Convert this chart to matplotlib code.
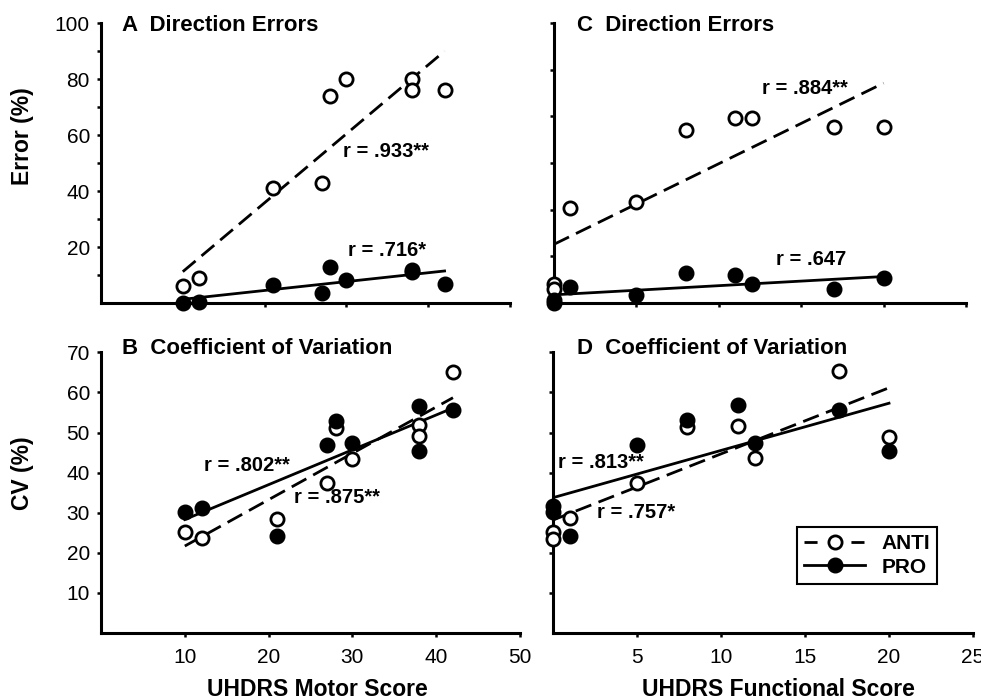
import numpy as np
import matplotlib.pyplot as plt
from matplotlib.lines import Line2D

plt.rcParams['font.family'] = ['Liberation Sans', 'DejaVu Sans']

# Escores UHDRS dos 9 pacientes
motor_score = [10, 12, 21, 27, 28, 30, 38, 38, 42]
functional_score = [0, 0, 1, 5, 8, 11, 12, 17, 20]

# A: erros de direcao (%) x escore motor
err_anti_motor = [6, 9, 41, 43, 74, 80, 80, 76, 76]
err_pro_motor = [0, 0.5, 6.4, 3.7, 13, 8.2, 12, 11, 6.7]
# C: erros de direcao (%) x escore funcional
err_anti_func = [7, 5, 34, 36, 62, 66, 66, 63, 63]
err_pro_func = [0, 1, 5.6, 2.9, 10.6, 9.9, 6.8, 5.2, 8.8]
# B: coeficiente de variacao (%) x escore motor
cv_anti_motor = [25.3, 23.7, 28.5, 37.4, 51.2, 43.4, 51.8, 49.1, 65.1]
cv_pro_motor = [30.3, 31.2, 24.1, 47.0, 52.8, 47.4, 56.7, 45.3, 55.5]
# D: coeficiente de variacao (%) x escore funcional
cv_anti_func = [25.3, 23.4, 28.7, 37.3, 51.4, 51.6, 43.7, 65.3, 48.9]
cv_pro_func = [31.6, 30.1, 24.1, 47.0, 53.1, 56.8, 47.4, 55.5, 45.3]

# rotulos de correlacao: (texto, x, y)
r_a = [("r = .933**", 29.6, 54), ("r = .716*", 30.2, 18.7)]
r_c = [("r = .884**", 12.6, 76.7), ("r = .647", 13.5, 15.4)]
r_b = [("r = .802**", 12.3, 41.8), ("r = .875**", 23.0, 33.7)]
r_d = [("r = .813**", 0.3, 42.4), ("r = .757*", 2.6, 30.1)]

DASH = (0, (6.0, 2.8))
LW = 2.0


def painel(ax, x, y_anti, y_pro, titulo, rotulos, xlim, ylim, pos_titulo):
    x = np.asarray(x, dtype=float)
    for y, ls in ((y_anti, DASH), (y_pro, '-')):
        b, a = np.polyfit(x, np.asarray(y, dtype=float), 1)
        xl = np.array([x.min(), x.max()])
        ax.plot(xl, a + b * xl, color='black', linestyle=ls, linewidth=LW, zorder=3)
    ax.plot(x, y_anti, 'o', markersize=9.5, markerfacecolor='white',
            markeredgecolor='black', markeredgewidth=2.0, clip_on=False, zorder=5)
    ax.plot(x, y_pro, 'o', markersize=10.5, markerfacecolor='black',
            markeredgecolor='black', clip_on=False, zorder=5)
    for txt, tx, ty in rotulos:
        ax.text(tx, ty, txt, fontsize=14.5, fontweight='bold', va='center', ha='left', zorder=6)
    ax.text(pos_titulo[0], pos_titulo[1], titulo, transform=ax.transAxes, fontsize=16,
            fontweight='bold', va='center', ha='left')
    ax.set_xlim(*xlim)
    ax.set_ylim(*ylim)
    for s in ('top', 'right'):
        ax.spines[s].set_visible(False)
    for s in ('left', 'bottom'):
        ax.spines[s].set_linewidth(2.2)
    ax.tick_params(which='both', direction='out', length=3, width=1.8,
                   labelsize=15)
    ax.tick_params(axis='x', pad=8)
    ax.tick_params(axis='y', pad=5)


fig = plt.figure(figsize=(9.81, 7.0), dpi=100)
ax_a = fig.add_axes([101 / 981, 0.567, 409 / 981, 0.400])
ax_c = fig.add_axes([554 / 981, 0.567, 412 / 981, 0.400])
ax_b = fig.add_axes([101 / 981, 0.0957, 419 / 981, 0.401])
ax_d = fig.add_axes([553 / 981, 0.0957, 420 / 981, 0.401])

painel(ax_a, motor_score, err_anti_motor, err_pro_motor, "A  Direction Errors", r_a,
       (0, 50), (0, 100), (0.051, 0.99))
painel(ax_c, functional_score, err_anti_func, err_pro_func, "C  Direction Errors", r_c,
       (0, 25), (0, 100), (0.055, 0.99))
painel(ax_b, motor_score, cv_anti_motor, cv_pro_motor, "B  Coefficient of Variation", r_b,
       (0, 50), (0, 70), (0.049, 1.014))
painel(ax_d, functional_score, cv_anti_func, cv_pro_func, "D  Coefficient of Variation", r_d,
       (0, 25), (0, 70), (0.058, 1.014))

# ticks
ax_a.set_yticks([20, 40, 60, 80, 100])
ax_a.set_yticks([10, 30, 50, 70, 90], minor=True)
ax_c.set_yticks(np.linspace(0, 100, 7)[1:])
ax_c.set_yticklabels([])
ax_b.set_yticks([10, 20, 30, 40, 50, 60, 70])
ax_d.set_yticks([10, 20, 30, 40, 50, 60, 70])
ax_d.set_yticklabels([])
for ax in (ax_a, ax_b):
    ax.set_xticks([10, 20, 30, 40, 50])
for ax in (ax_c, ax_d):
    ax.set_xticks([5, 10, 15, 20, 25])
for ax in (ax_a, ax_c):
    ax.set_xticklabels([])

# rotulos dos eixos
fig.text(22 / 981, 1 - 136 / 700, "Error (%)", rotation=90, fontsize=16.5,
         fontweight='bold', ha='center', va='center')
fig.text(22 / 981, 1 - 473 / 700, "CV (%)", rotation=90, fontsize=16.5,
         fontweight='bold', ha='center', va='center')
fig.text(317 / 981, 1 - 690 / 700, "UHDRS Motor Score", fontsize=16.5,
         fontweight='bold', ha='center', va='center')
fig.text(778 / 981, 1 - 690 / 700, "UHDRS Functional Score", fontsize=16.5,
         fontweight='bold', ha='center', va='center')

# legenda
handles = [
    Line2D([0], [0], color='black', linestyle=(0, (4.7, 12.2)), linewidth=LW, marker='o',
           markersize=9.5, markerfacecolor='white', markeredgewidth=2.0),
    Line2D([0], [0], color='black', linestyle='-', linewidth=LW, marker='o',
           markersize=10.5, markerfacecolor='black'),
]
leg = ax_d.legend(handles, ["ANTI", "PRO"], loc='upper left', bbox_to_anchor=(0.581, 0.377),
                  frameon=True, fancybox=False, edgecolor='black', framealpha=1,
                  prop={'size': 15, 'weight': 'bold'}, handlelength=2.9,
                  handletextpad=0.8, borderpad=0.35, labelspacing=0.2, borderaxespad=0)
leg.get_frame().set_linewidth(1.5)

fig.savefig("out.png", dpi=100)
